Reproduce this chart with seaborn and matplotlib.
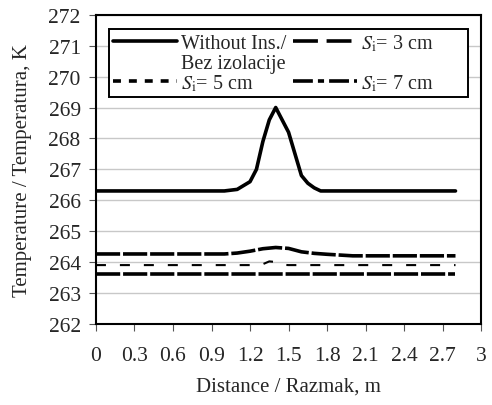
import numpy as np
import pandas as pd
import matplotlib
matplotlib.use('Agg')
import matplotlib.pyplot as plt
import seaborn as sns
from matplotlib.lines import Line2D

# distance, m
x_none = [0, 1.0, 1.1, 1.2, 1.25, 1.3, 1.35, 1.4, 1.45, 1.5, 1.55, 1.6, 1.65, 1.7, 1.75, 2.8]
t_none = [266.3, 266.3, 266.35, 266.6, 267.0, 267.9, 268.6, 269.0, 268.6, 268.2, 267.5, 266.8, 266.55, 266.4, 266.3, 266.3]

x_s3 = [0, 1.0, 1.1, 1.2, 1.3, 1.4, 1.5, 1.6, 1.7, 1.8, 2.0, 2.8]
t_s3 = [264.26, 264.26, 264.29, 264.35, 264.43, 264.47, 264.44, 264.33, 264.28, 264.25, 264.2, 264.2]

x_s5 = [0, 1.25, 1.3, 1.35, 1.4, 1.45, 1.5, 2.8]
t_s5 = [263.9, 263.9, 263.93, 264.02, 264.0, 263.91, 263.9, 263.9]

x_s7 = [0, 2.8]
t_s7 = [263.62, 263.62]

labels = ['Without Ins./', r'$S_\mathrm{i}$= 3 cm', r'$S_\mathrm{i}$= 5 cm', r'$S_\mathrm{i}$= 7 cm']
label_2nd = 'Bez izolacije'

sns.set_style('white')
plt.rcParams['font.family'] = ['Liberation Serif', 'DejaVu Serif']
plt.rcParams['mathtext.fontset'] = 'stix'
FS = 14.5

df = pd.concat([
    pd.DataFrame({'x': x_none, 'T': t_none, 'case': labels[0]}),
    pd.DataFrame({'x': x_s3, 'T': t_s3, 'case': labels[1]}),
    pd.DataFrame({'x': x_s5, 'T': t_s5, 'case': labels[2]}),
    pd.DataFrame({'x': x_s7, 'T': t_s7, 'case': labels[3]}),
])

fig = plt.figure(figsize=(4.92, 4.06), dpi=100)
ax = fig.add_axes([0.195, 0.2, 0.783, 0.761])

styles = {labels[0]: dict(lw=2.6, ls='-'),
          labels[1]: dict(lw=2.6, ls=(0, (6.7, 0.8))),
          labels[2]: dict(lw=1.5, ls=(0, (4.8, 6.7))),
          labels[3]: dict(lw=2.6, ls=(0, (6.7, 0.8)))}
for lab in labels:
    sub = df[df['case'] == lab]
    sns.lineplot(data=sub, x='x', y='T', ax=ax, color='black', **styles[lab])

# legend: 3 rows x 2 columns, second row of column 1 carries the
# continuation of the first label
h_none = Line2D([], [], color='black', lw=2.6, ls='-')
h_blank = Line2D([], [], color='none', lw=0)
h_s3 = Line2D([], [], color='black', lw=2.6, ls=(0, (6.9, 2.4)))
h_s5 = Line2D([], [], color='black', lw=2.6, ls=(0, (2.2, 2.2)))
h_s7 = Line2D([], [], color='black', lw=2.6, ls=(0, (5.5, 1.4, 1.7, 1.4)))
pad = '       '
leg = ax.legend([h_none, h_blank, h_s5, h_s3, h_blank, h_s7],
                [labels[0], label_2nd, labels[2], labels[1] + pad, '', labels[3] + pad],
                ncol=2, loc='upper left', bbox_to_anchor=(0.033, 0.955), fontsize=FS,
                frameon=True, fancybox=False, edgecolor='black', framealpha=1,
                handlelength=3.2, handletextpad=0.2, columnspacing=0.3,
                labelspacing=0.0, borderpad=0.2, borderaxespad=0)
leg.get_frame().set_linewidth(1.4)

ax.set_xlim(0, 3)
ax.set_ylim(262, 272)
ax.set_xticks(np.arange(0, 3.01, 0.3))
ax.set_xticklabels(['0', '0.3', '0.6', '0.9', '1.2', '1.5', '1.8', '2.1', '2.4', '2.7', '3'])
ax.set_yticks(np.arange(262, 273, 1))
ax.yaxis.grid(True, color='#c8c8c8', lw=1)
ax.xaxis.grid(False)
ax.tick_params(axis='both', direction='out', length=5, width=0.8, color='#555555',
               labelsize=15.5, bottom=True, left=True)
ax.tick_params(axis='x', pad=11)
ax.tick_params(axis='y', pad=6)
for s in ax.spines.values():
    s.set_color('black')
    s.set_linewidth(1.5)
ax.set_xlabel('Distance / Razmak, m', fontsize=15, labelpad=8)
ax.set_ylabel('Temperature / Temperatura, K', fontsize=15, labelpad=12)

fig.savefig('out.png', dpi=100)
